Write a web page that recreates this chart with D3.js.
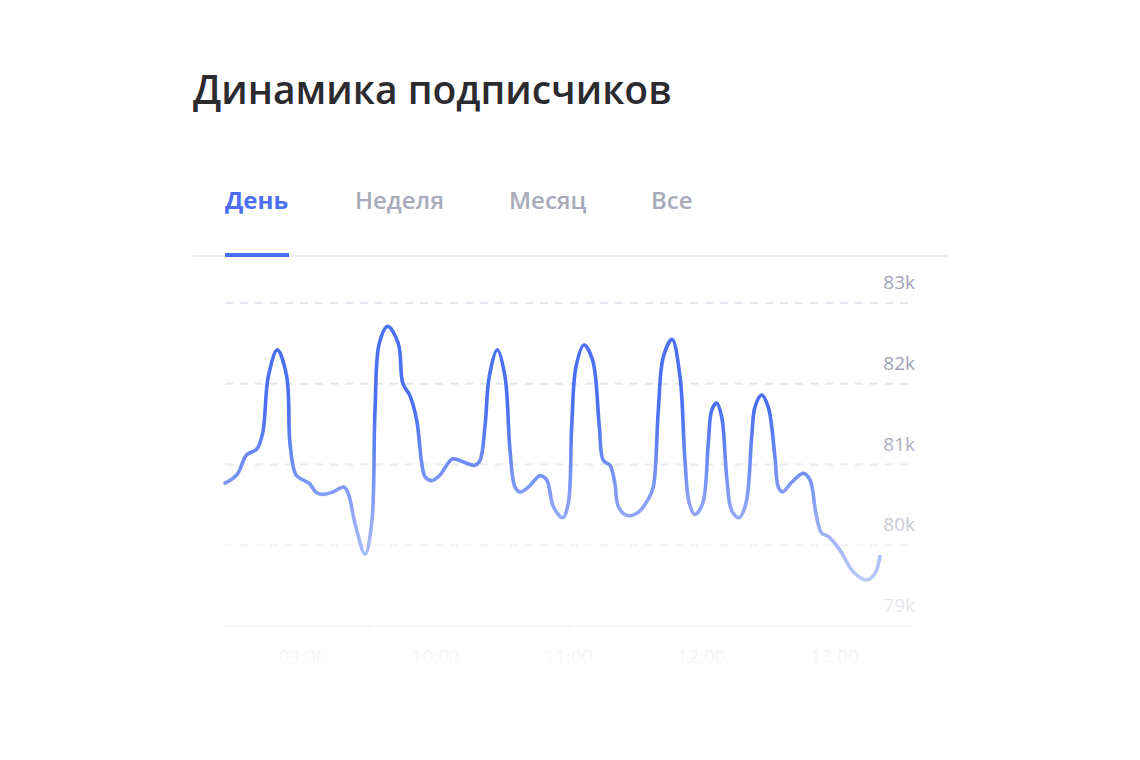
<!DOCTYPE html>
<html>
<head>
<meta charset="utf-8">
<script src="https://cdn.jsdelivr.net/npm/d3@7"></script>
<style>
  html, body { margin: 0; padding: 0; background: #ffffff; }
  svg { display: block; font-family: "Open Sans", "Noto Sans", sans-serif; }
</style>
</head>
<body>
<svg id="chart" width="1140" height="760"></svg>
<script>
// ---- data ----
const title = "Динамика подписчиков";
const tabs = ["День", "Неделя", "Месяц", "Все"];
const activeTab = "День";

const times = [
  "08:25:16","08:30:32","08:35:03","08:39:34","08:42:16","08:44:48","08:48:52","08:53:06","08:54:35","08:57:17",
  "09:00:27","09:03:09","09:06:38","09:09:28","09:13:59","09:18:57","09:20:53","09:23:55","09:28:25","09:31:26",
  "09:32:56","09:34:52","09:38:40","09:43:26","09:45:26","09:48:43","09:51:44","09:54:00","09:55:29","09:58:31",
  "10:02:15","10:07:53","10:12:46","10:18:02","10:20:18","10:22:33","10:24:29","10:28:06","10:31:34","10:33:50",
  "10:36:05","10:38:20","10:42:05","10:47:22","10:50:23","10:53:22","10:57:36","11:00:08","11:01:40","11:03:36",
  "11:07:13","11:11:08","11:14:07","11:15:55","11:18:56","11:21:11","11:22:41","11:26:28","11:31:43","11:36:13",
  "11:38:28","11:40:44","11:42:59","11:46:55","11:50:31","11:52:46","11:54:43","11:57:17","12:00:46","12:03:17",
  "12:04:49","12:07:04","12:09:20","12:11:35","12:13:50","12:17:08","12:20:17","12:22:52","12:24:21","12:27:22",
  "12:30:21","12:33:22","12:34:52","12:36:50","12:40:54","12:46:08","12:49:10","12:51:52","12:54:26","12:57:25",
  "13:02:41","13:08:41","13:14:44","13:18:29","13:20:44"
];
const subscribers = [
  80770,80870,81120,81190,81390,82090,82420,82090,81260,80870,
  80810,80770,80650,80630,80660,80720,80640,80270,79890,80270,
  81670,82500,82710,82500,82010,81850,81550,81020,80850,80800,
  80870,81070,81030,80990,81050,81470,82090,82420,82090,81180,
  80720,80660,80720,80860,80810,80480,80340,80520,81470,82210,
  82480,82290,81470,81050,80990,80760,80480,80370,80410,80570,
  80720,81670,82330,82550,82090,81050,80520,80380,80520,81260,
  81670,81760,81590,80850,80430,80340,80520,81340,81710,81860,
  81710,81090,80720,80660,80780,80890,80810,80390,80150,80110,
  79940,79670,79570,79650,79860
];
const yTickValues = [79000, 80000, 81000, 82000, 83000];
const yTickLabels = ["79k", "80k", "81k", "82k", "83k"];
const xTickTimes = ["09:00","09:30","10:00","10:30","11:00","11:30","12:00","12:30","13:00"];
const xTickLabels = ["09:00","","10:00","","11:00","","12:00","","13:00"];

// ---- chart ----
const svg = d3.select("#chart");
const parse = d3.timeParse("%H:%M:%S");
const parseHM = d3.timeParse("%H:%M");
const data = times.map((t, i) => ({ t: parse(t), v: subscribers[i] }));

const plotLeft = 225, plotRight = 913;
const x = d3.scaleTime().domain([parseHM("09:00"), parseHM("13:00")]).range([302, 834]);
const y = d3.scaleLinear().domain([79000, 83000]).range([626, 303]);

// title
svg.append("text")
  .attr("x", 193).attr("y", 104)
  .attr("font-size", 39).attr("font-weight", 600)
  .attr("fill", "#2b2b30")
  .text(title);

// tabs
const tabStarts = { "День": 225, "Неделя": 355, "Месяц": 509, "Все": 651 };
const tabG = svg.append("g");
tabG.selectAll("text").data(tabs).join("text")
  .attr("x", d => tabStarts[d])
  .attr("y", 209)
  .attr("font-size", 24)
  .attr("font-weight", d => d === activeTab ? 700 : 600)
  .attr("fill", d => d === activeTab ? "#4c6ef5" : "#a9abbb")
  .text(d => d);

svg.append("rect").attr("x", 193).attr("y", 255).attr("width", 754).attr("height", 2).attr("fill", "#ececf1");
svg.append("rect").attr("x", 225).attr("y", 253).attr("width", 64).attr("height", 4).attr("fill", "#4c6ef5");

// grid
const grid = svg.append("g");
grid.selectAll("line").data(yTickValues.filter(v => v !== 79000)).join("line")
  .attr("x1", plotLeft).attr("x2", plotRight)
  .attr("y1", d => y(d)).attr("y2", d => y(d))
  .attr("stroke", "#e6e7ee").attr("stroke-width", 2)
  .attr("stroke-dasharray", "8,7");

grid.selectAll("text").data(yTickValues).join("text")
  .attr("x", 915).attr("y", d => y(d) - 14)
  .attr("text-anchor", "end")
  .attr("font-size", 19)
  .attr("fill", "#a2a4b5")
  .text((d, i) => yTickLabels[i]);

// x axis
const xAxis = d3.axisBottom(x)
  .tickValues(xTickTimes.map(parseHM))
  .tickSize(7)
  .tickFormat((d, i) => xTickLabels[i]);
const xg = svg.append("g").attr("transform", `translate(0,${y(79000)})`).call(xAxis);
xg.select(".domain").remove();
xg.selectAll(".tick line").attr("stroke", "#e2e3ea").attr("stroke-width", 1.5);
xg.selectAll(".tick text").attr("font-size", 19).attr("fill", "#a2a4b5")
  .attr("font-family", "Open Sans, sans-serif").attr("dy", "1.4em");
svg.append("line").attr("x1", plotLeft).attr("x2", plotRight)
  .attr("y1", y(79000)).attr("y2", y(79000))
  .attr("stroke", "#e2e3ea").attr("stroke-width", 2);

// line
const line = d3.line().x(d => x(d.t)).y(d => y(d.v)).curve(d3.curveCatmullRom.alpha(0.5));
svg.append("path").datum(data)
  .attr("d", line)
  .attr("fill", "none")
  .attr("stroke", "#4b70f1")
  .attr("stroke-width", 3.6)
  .attr("stroke-linejoin", "round")
  .attr("stroke-linecap", "round");

// fade overlay
const defs = svg.append("defs");
const grad = defs.append("linearGradient").attr("id", "fade")
  .attr("gradientUnits", "userSpaceOnUse")
  .attr("x1", 0).attr("x2", 0).attr("y1", 410).attr("y2", 668);
grad.append("stop").attr("offset", "0%").attr("stop-color", "#fff").attr("stop-opacity", 0);
grad.append("stop").attr("offset", "100%").attr("stop-color", "#fff").attr("stop-opacity", 0.95);
svg.append("rect").attr("x", 200).attr("y", 410).attr("width", 740).attr("height", 300)
  .attr("fill", "url(#fade)");
</script>
</body>
</html>
